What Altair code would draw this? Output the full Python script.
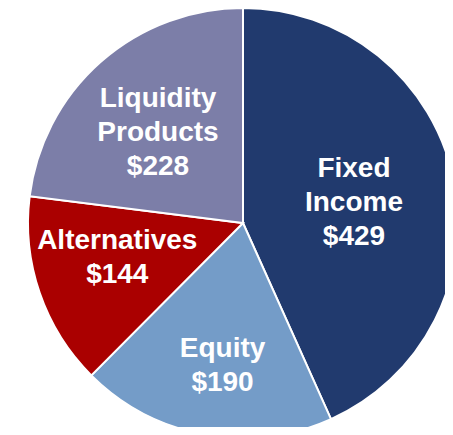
import altair as alt
import pandas as pd

categories = ["Fixed Income", "Equity", "Alternatives", "Liquidity Products"]
values = [429, 190, 144, 228]
colors = ["#213A6E", "#749CC8", "#AA0000", "#7C7EA8"]

df = pd.DataFrame({
    "category": categories,
    "value": values,
    "order": list(range(len(categories))),
})

# label placement: distance from the pie centre and angular nudge (degrees)
label_radius = {"Fixed Income": 123.5, "Equity": 128, "Alternatives": 127, "Liquidity Products": 150}
label_turn = {"Fixed Income": -13.95, "Equity": -1.15, "Alternatives": 10.85, "Liquidity Products": 6.9}
total = sum(values)
df["lr"] = df["category"].map(label_radius)
df["lt"] = df["category"].map(label_turn) / 360 * total

cx, cy, R = 235, 215, 215

base = alt.Chart(df).transform_window(
    end="sum(value)", sort=[alt.SortField("order")], frame=[None, 0]
).transform_calculate(
    start="datum.end - datum.value",
    mid="datum.end - datum.value / 2 + datum.lt",
    label="replace(datum.category, ' ', '\\n') + '\\n$' + datum.value",
).encode(
    x=alt.value(cx),
    y=alt.value(cy),
)

theta_scale = alt.Scale(domain=[0, total], zero=True)

arcs = base.mark_arc(radius=R, stroke="white", strokeWidth=2).encode(
    theta=alt.Theta("start:Q", scale=theta_scale),
    theta2="end:Q",
    color=alt.Color("category:N",
                    scale=alt.Scale(domain=categories, range=colors),
                    legend=None),
)

labels = base.mark_text(
    font="Liberation Sans", fontWeight="bold", fontSize=28,
    color="white", lineBreak="\n", lineHeight=34,
    align="center", baseline="middle",
).encode(
    theta=alt.Theta("mid:Q", scale=theta_scale),
    radius=alt.Radius("lr:Q", scale=None),
    text="label:N",
)

chart = (arcs + labels).properties(
    width=437, height=419, padding=0,
    autosize=alt.AutoSizeParams(type="none"),
).configure_view(stroke=None)

chart.save("out.html", embed_options={"renderer": "svg", "actions": False})
